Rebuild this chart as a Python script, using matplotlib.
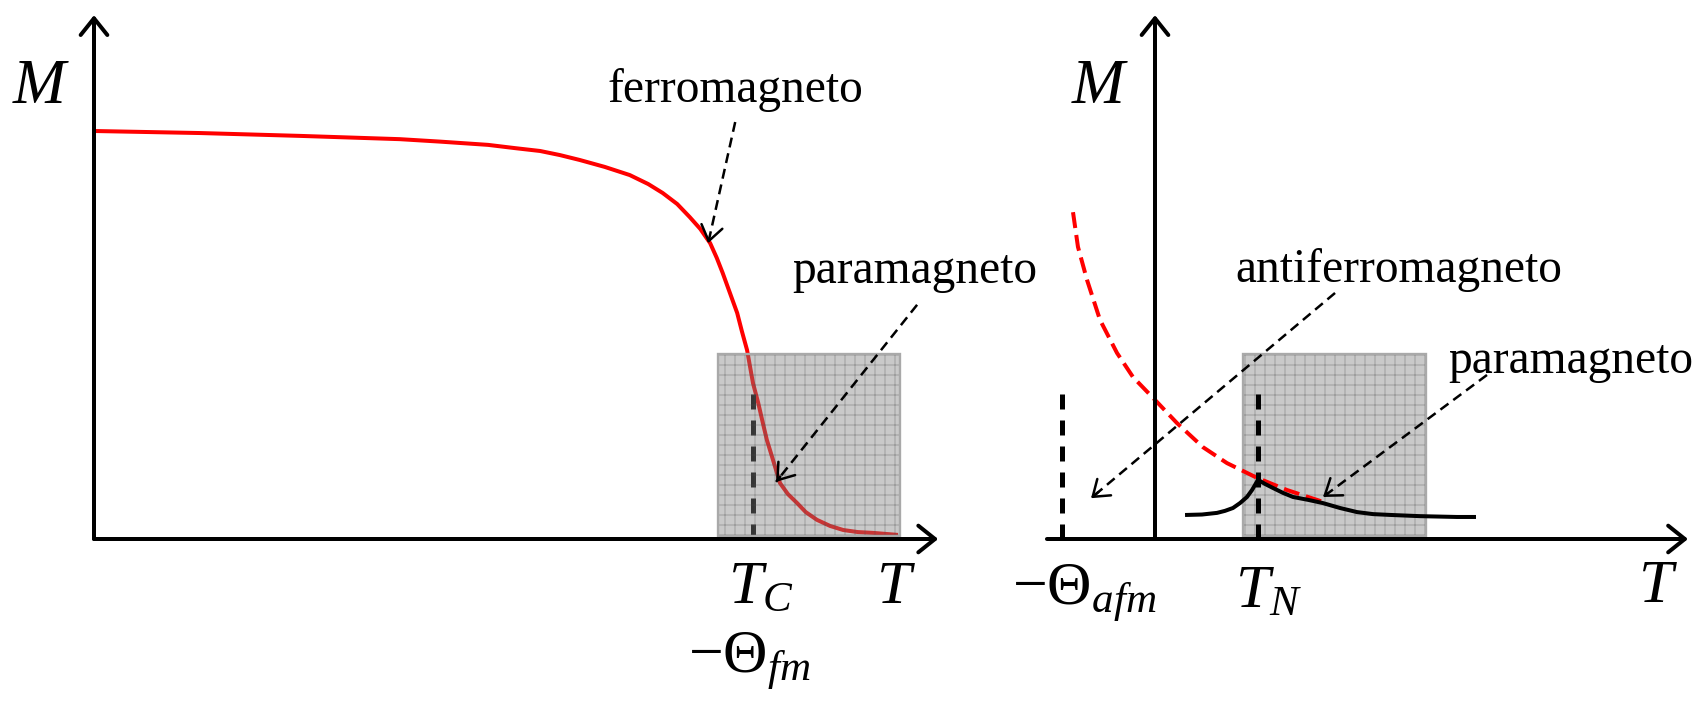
import matplotlib
matplotlib.use("Agg")
import matplotlib.pyplot as plt
from matplotlib.patches import Rectangle

plt.rcParams["font.family"] = ["Liberation Serif", "DejaVu Serif"]
plt.rcParams["mathtext.fontset"] = "custom"
plt.rcParams["mathtext.rm"] = "Liberation Serif"
plt.rcParams["mathtext.it"] = "Liberation Serif:italic"
plt.rcParams["hatch.linewidth"] = 0.6

# ---- ferromagnet: spontaneous magnetisation, T in units of T_C, M in units of M(0)
fm_T = [0.0, 0.161, 0.313, 0.464, 0.525, 0.598, 0.639, 0.677, 0.707, 0.737,
        0.775, 0.813, 0.841, 0.863, 0.885, 0.904, 0.920, 0.935, 0.945, 0.954,
        0.965, 0.976, 0.983, 0.991, 1.000, 1.008, 1.015, 1.021, 1.029, 1.035,
        1.041, 1.053, 1.067, 1.080, 1.097, 1.117, 1.137, 1.159, 1.182, 1.220]
fm_M = [1.000, 0.995, 0.988, 0.980, 0.974, 0.966, 0.958, 0.951, 0.941, 0.929,
        0.912, 0.892, 0.870, 0.848, 0.821, 0.789, 0.760, 0.725, 0.689, 0.652,
        0.603, 0.554, 0.510, 0.463, 0.382, 0.333, 0.284, 0.243, 0.201, 0.169,
        0.137, 0.110, 0.088, 0.066, 0.047, 0.032, 0.022, 0.017, 0.015, 0.010]

# ---- antiferromagnet, T in units of T_N
cw_T = [-0.796, -0.748, -0.660, -0.534, -0.369, -0.214, -0.019, 0.214, 0.466,
        0.699, 0.990, 1.282, 1.631]
cw_M = [0.801, 0.716, 0.635, 0.537, 0.456, 0.397, 0.346, 0.284, 0.225,
        0.186, 0.150, 0.120, 0.091]
afm_T = [0.311, 0.456, 0.602, 0.680, 0.757, 0.825, 0.893, 0.942, 1.000,
         1.068, 1.146, 1.243, 1.340, 1.485, 1.631, 1.796, 1.961, 2.117,
         2.282, 2.573, 2.932, 3.097]
afm_M = [0.059, 0.060, 0.064, 0.069, 0.076, 0.088, 0.103, 0.120, 0.145,
         0.135, 0.125, 0.113, 0.103, 0.096, 0.088, 0.076, 0.066, 0.061,
         0.059, 0.056, 0.054, 0.054]

T_C = 1.0
T_N = 1.0
theta_afm = -0.903
marker_top = 0.372

fm_box = (0.947, 1.223, 0.007, 0.453)     # T0, T1, M0, M1
afm_box = (0.854, 2.631, 0.007, 0.453)

fig = plt.figure(figsize=(1699 / 120, 707 / 120), dpi=120)
axL = fig.add_axes([0, 0, 1, 1])
axR = fig.add_axes([0, 0, 1, 1])
axR.patch.set_alpha(0)
axL.set_xlim(-0.14264, 2.43551)
axL.set_ylim(-0.41176, 1.32108)
axR.set_xlim(-11.2136, 5.2816)
axR.set_ylim(-0.41176, 1.32108)
for a in (axL, axR):
    a.set_axis_off()

AX_LW = 2.4
head_axis = "->,head_length=0.5,head_width=0.4"


def axis_arrow(ax, start, end):
    ax.annotate("", xy=end, xytext=start, zorder=6,
                arrowprops=dict(arrowstyle=head_axis, lw=AX_LW, color="black",
                                shrinkA=0, shrinkB=0, mutation_scale=20))


def dashed_pointer(ax, start, end):
    ax.plot([start[0], end[0]], [start[1], end[1]], color="black", lw=1.5,
            linestyle=(0, (4, 2.4)), zorder=7, solid_capstyle="butt")
    f = 0.03
    near = (end[0] + f * (start[0] - end[0]), end[1] + f * (start[1] - end[1]))
    ax.annotate("", xy=end, xytext=near, zorder=7,
                arrowprops=dict(arrowstyle="->,head_length=0.45,head_width=0.32",
                                lw=1.5, color="black", shrinkA=0, shrinkB=0,
                                mutation_scale=20))


def window(ax, box, z):
    t0, t1, m0, m1 = box
    ax.add_patch(Rectangle((t0, m0), t1 - t0, m1 - m0, facecolor="#7f7f7f",
                           edgecolor="none", alpha=0.42, zorder=z))
    ax.add_patch(Rectangle((t0, m0), t1 - t0, m1 - m0, facecolor="none",
                           edgecolor=(0.3, 0.3, 0.3, 0.35), lw=0, hatch="++",
                           zorder=z))
    ax.add_patch(Rectangle((t0, m0), t1 - t0, m1 - m0, facecolor="none",
                           edgecolor="#a9a9a9", lw=1.4, zorder=z))


vdash = (0, (3.0, 2.2))
VLW = 3.0

# ---- left panel: ferromagnet
axL.plot(fm_T, fm_M, color="#ff0000", lw=2.4, zorder=2, solid_capstyle="butt",
         solid_joinstyle="round")
axL.plot([T_C, T_C], [0, marker_top], color="black", lw=VLW, linestyle=vdash,
         zorder=2)
window(axL, fm_box, 4)
axis_arrow(axL, (0, 0), (0, 1.284))
axis_arrow(axL, (0, 0), (1.281, 0))
dashed_pointer(axL, (0.973, 1.022), (0.932, 0.725))
dashed_pointer(axL, (1.249, 0.574), (1.035, 0.140))

axL.text(-0.080, 1.069, r"$M$", fontsize=38, ha="center", va="baseline")
axL.text(1.217, -0.157, r"$T$", fontsize=37, ha="center", va="baseline")
axL.text(0.962, -0.157, r"$T_C$", fontsize=37, ha="left", va="baseline")
axL.text(0.901, -0.328, r"$-\mathrm{\Theta}_{fm}$", fontsize=37, ha="left",
         va="baseline")
axL.text(0.973, 1.071, "ferromagneto", fontsize=28.5, ha="center", va="baseline")
axL.text(1.246, 0.627, "paramagneto", fontsize=28.5, ha="center", va="baseline")

# ---- right panel: antiferromagnet
window(axR, afm_box, 1)
axR.plot(cw_T, cw_M, color="#ff0000", lw=2.4, linestyle=(0, (4, 1.75)), zorder=2)
axR.plot(afm_T, afm_M, color="black", lw=2.4, zorder=3, solid_joinstyle="round")
axR.plot([theta_afm, theta_afm], [0, marker_top], color="black", lw=VLW,
         linestyle=vdash, zorder=3)
axR.plot([T_N, T_N], [0, marker_top], color="black", lw=VLW, linestyle=vdash,
         zorder=3)
axis_arrow(axR, (0, 0), (0, 1.284))
axis_arrow(axR, (-1.049, 0), (5.175, 0))
dashed_pointer(axR, (1.748, 0.603), (-0.621, 0.100))
dashed_pointer(axR, (3.223, 0.402), (1.631, 0.103))

axR.text(-0.534, 1.069, r"$M$", fontsize=38, ha="center", va="baseline")
axR.text(4.883, -0.154, r"$T$", fontsize=37, ha="center", va="baseline")
axR.text(0.777, -0.167, r"$T_N$", fontsize=37, ha="left", va="baseline")
axR.text(-1.388, -0.162, r"$-\mathrm{\Theta}_{afm}$", fontsize=37, ha="left",
         va="baseline")
axR.text(2.369, 0.630, "antiferromagneto", fontsize=28.5, ha="center", va="baseline")
axR.text(4.039, 0.407, "paramagneto", fontsize=28.5, ha="center", va="baseline")

fig.savefig("out.png", dpi=120, facecolor="white")
